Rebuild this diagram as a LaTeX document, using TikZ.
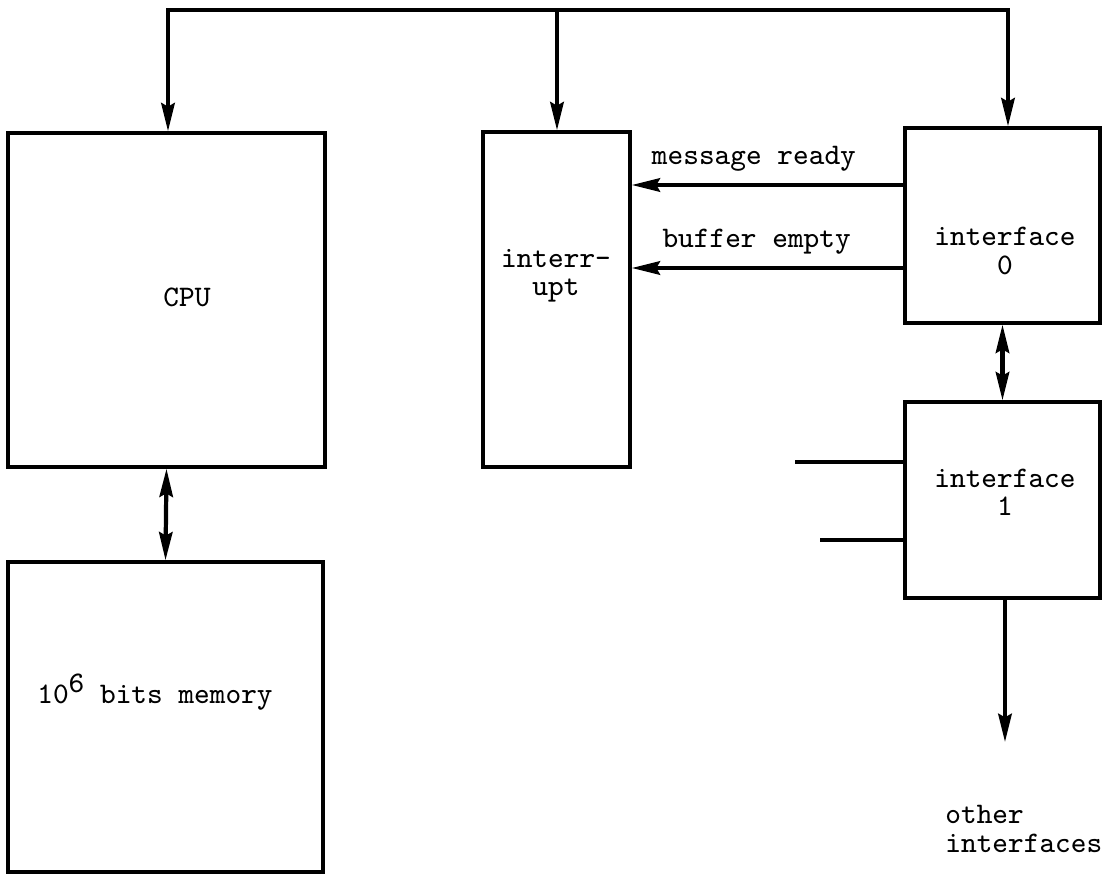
\documentclass[tikz,border=0pt]{standalone}
\usepackage{fontspec}
\usetikzlibrary{arrows.meta}
\begin{document}
\begin{tikzpicture}[>={Stealth[length=8pt,width=3.8pt,inset=1pt]},
    blok/.style={draw, line width=1pt, inner sep=0pt},
    tekst/.style={font=\ttfamily\fontsize{8.5}{8}\selectfont, align=center},
    lijn/.style={line width=1.2pt}]
  \useasboundingbox (0,0) rectangle (11.02,8.74);

  % CPU
  \node[blok, minimum width=3.17cm, minimum height=3.34cm] (cpu) at (1.665,5.74) {};
  \node[tekst] (cpu-t) at (1.87,5.77) {CPU};

  % Geheugen
  \node[blok, minimum width=3.15cm, minimum height=3.10cm] (mem) at (1.655,1.57) {};
  \node[tekst] (mem-t) at (1.55,1.82) {10\raisebox{0.9ex}{6} bits memory};

  % Interrupt
  \node[blok, minimum width=1.47cm, minimum height=3.35cm] (irq) at (5.565,5.745) {};
  \node[tekst] (irq-t) at (5.56,5.98) {interr-\\upt};

  % Interface 0
  \node[blok, minimum width=1.95cm, minimum height=1.95cm] (if0) at (10.025,6.485) {};
  \node[tekst] (if0-t) at (10.05,6.23) {interface\\0};

  % Interface 1
  \node[blok, minimum width=1.95cm, minimum height=1.96cm] (if1) at (10.025,3.74) {};
  \node[tekst] (if1-t) at (10.05,3.82) {interface\\1};

  % Bus
  \coordinate (bus-l) at (1.68,8.64);
  \coordinate (bus-m) at (5.57,8.64);
  \coordinate (bus-r) at (10.08,8.64);
  \draw[lijn,->] (bus-m) -- (bus-l) -- (bus-l |- cpu.north);
  \draw[lijn,->] (bus-m) -- (bus-r) -- (bus-r |- if0.north);
  \draw[lijn,->] (bus-m) -- (bus-m |- irq.north);

  % Signalen naar interrupt
  \draw[lijn,->] (if0.west |- 0,6.89) -- (irq.east |- 0,6.89)
    node[pos=0.55, above=0pt, tekst] (msg) {message ready};
  \draw[lijn,->] (if0.west |- 0,6.06) -- (irq.east |- 0,6.06)
    node[pos=0.54, above=0pt, tekst] (buf) {buffer empty};

  % Verbindingen
  \draw[lijn,<->] (cpu.south) -- (mem.north);
  \draw[lijn,<->] (if0.south) -- (if1.north);

  % Lijnen naar interface 1
  \coordinate (in-a) at (7.95,4.12);
  \coordinate (in-b) at (8.20,3.34);
  \draw[lijn] (in-a) -- (in-a -| if1.west);
  \draw[lijn] (in-b) -- (in-b -| if1.west);

  % Andere interfaces
  \coordinate (uit) at (10.05,1.32);
  \draw[lijn,->] (uit |- if1.south) -- (uit);
  \node[tekst, align=left, anchor=west] (other) at (9.33,0.45) {other\\interfaces};

\end{tikzpicture}
\end{document}
